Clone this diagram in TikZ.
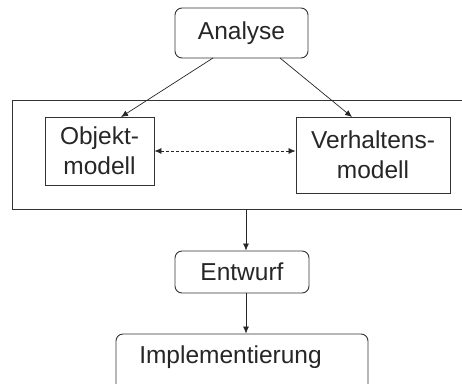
\documentclass[tikz,border=0pt]{standalone}
\usepackage{fontspec}
\setmainfont{Liberation Sans}
\usetikzlibrary{arrows.meta}
\begin{document}
\begin{tikzpicture}[x=1pt,y=-1pt,
  every node/.style={font=\fontsize{24.5}{30}\selectfont, text=black!85},
  rbox/.style={draw=black!80, line width=0.9pt, rounded corners=7pt, inner sep=0pt},
  sbox/.style={draw=black!80, line width=0.9pt, inner sep=0pt, align=center},
  arr/.style={-{Latex[length=7pt,width=6pt]}, line width=0.7pt, draw=black!85},
  darr/.style={{Latex[length=7pt,width=6pt]}-{Latex[length=7pt,width=6pt]}, line width=0.7pt, dashed, dash pattern=on 3pt off 2pt, draw=black!85}]
\useasboundingbox (0,0) rectangle (462,383);
\clip (0,0) rectangle (462,383);
\node[rbox, minimum width=133pt, minimum height=50pt] (analyse) at (241.5,33) {Analyse};
\node[sbox, minimum width=468pt, minimum height=109pt] (frame) at (246,154.5) {};
\node[sbox, minimum width=109pt, minimum height=68pt] (objekt) at (99.5,151) {Objekt-\\modell};
\node[sbox, minimum width=154pt, minimum height=76pt] (verhalten) at (373,155) {Verhaltens-\\modell};
\node[rbox, minimum width=134pt, minimum height=42pt] (entwurf) at (242,272) {Entwurf};
\node[rbox, minimum width=252pt, minimum height=61pt] (impl) at (242,364.5) {};
\node (impltext) at (230.5,357) {Implementierung};
\coordinate (a1) at (213,58);
\coordinate (a2) at (280,58);
\coordinate (o1) at (121,117);
\coordinate (v1) at (352,117);
\draw[arr] (a1) -- (o1);
\draw[arr] (a2) -- (v1);
\draw[darr] (objekt.east) -- (objekt.east -| verhalten.west);
\draw[arr] (frame.south) -- (frame.south |- entwurf.north);
\draw[arr] (frame.south |- entwurf.south) -- (frame.south |- impl.north);
\end{tikzpicture}
\end{document}
